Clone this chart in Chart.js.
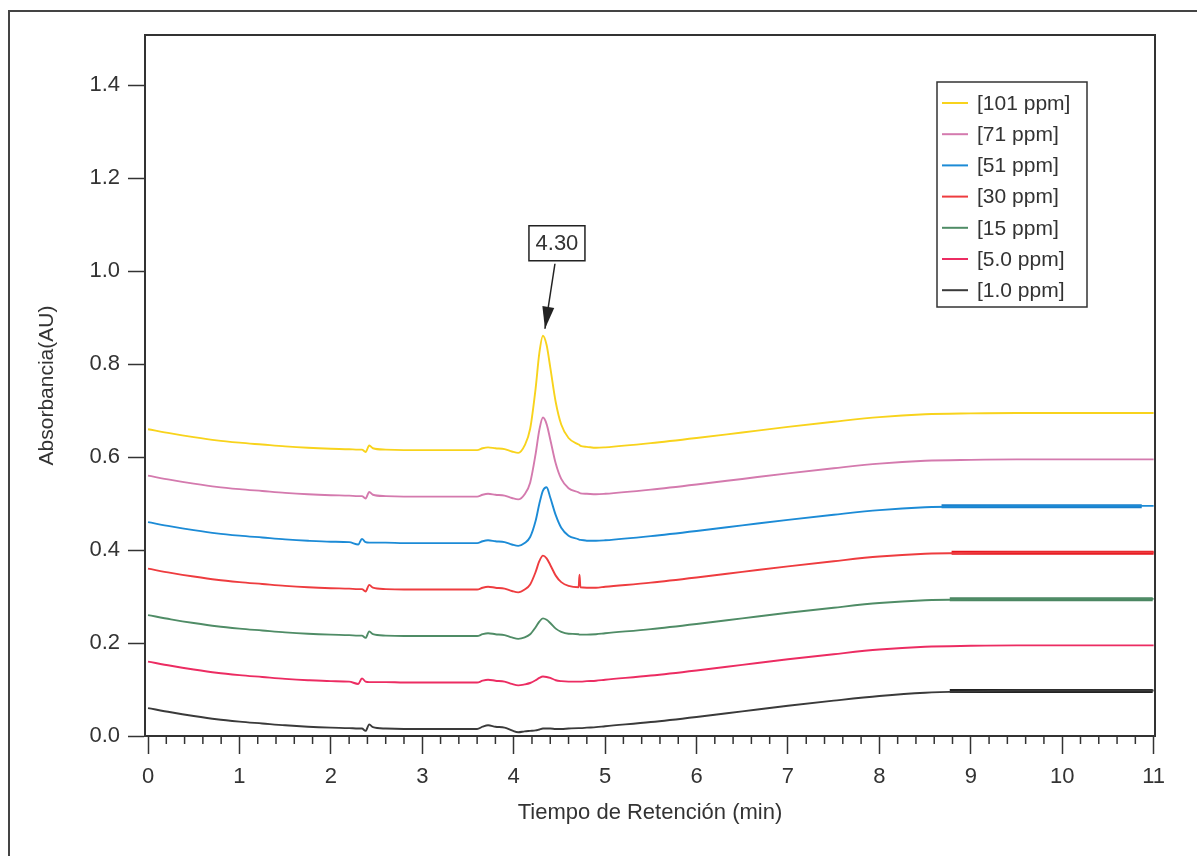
<!DOCTYPE html>
<html>
<head>
<meta charset="utf-8">
<script src="https://cdn.jsdelivr.net/npm/chart.js@4"></script>
<style>
  html, body { margin: 0; padding: 0; background: #fff; }
  #wrap { position: relative; width: 1197px; height: 856px; }
</style>
</head>
<body>
<div id="wrap"><canvas id="myChart" width="1197" height="856"></canvas></div>
<script>
// retention time (min)
const time = [0, 0.25, 0.5, 0.75, 1, 1.25, 1.5, 1.75, 2, 2.2, 2.3, 2.34, 2.38, 2.42, 2.46, 2.6, 2.8, 3, 3.2, 3.4, 3.6, 3.66, 3.72, 3.8, 3.9, 3.98, 4.05,
  4.12, 4.18, 4.24, 4.28, 4.32, 4.36, 4.4, 4.46, 4.52, 4.6, 4.71, 4.72, 4.73, 4.8, 4.9, 5, 5.5, 6, 6.5, 7, 7.5, 8, 8.5, 9, 9.5, 10, 10.5, 11];

// absorbance (AU) per standard
const ppm101 = [0.660, 0.651, 0.643, 0.636, 0.631, 0.627, 0.623, 0.620, 0.618, 0.617, 0.616, 0.616, 0.611, 0.625, 0.619, 0.616, 0.615, 0.615, 0.615, 0.615, 0.615, 0.619, 0.621, 0.619, 0.617, 0.612, 0.609,
  0.625, 0.661, 0.748, 0.823, 0.861, 0.841, 0.793, 0.718, 0.670, 0.641, 0.627, 0.626, 0.624, 0.622, 0.620, 0.621, 0.630, 0.641, 0.653, 0.665, 0.676, 0.686, 0.692, 0.694, 0.695, 0.695, 0.695, 0.695];
const ppm71 = [0.560, 0.551, 0.543, 0.536, 0.531, 0.527, 0.523, 0.520, 0.518, 0.517, 0.516, 0.516, 0.511, 0.525, 0.519, 0.516, 0.515, 0.515, 0.515, 0.515, 0.515, 0.519, 0.521, 0.519, 0.517, 0.512, 0.509,
  0.520, 0.545, 0.607, 0.658, 0.685, 0.671, 0.638, 0.586, 0.553, 0.533, 0.524, 0.523, 0.522, 0.521, 0.520, 0.521, 0.530, 0.541, 0.553, 0.565, 0.576, 0.586, 0.592, 0.594, 0.595, 0.595, 0.595, 0.595];
const ppm51 = [0.460, 0.451, 0.443, 0.436, 0.431, 0.427, 0.423, 0.420, 0.418, 0.417, 0.412, 0.424, 0.417, 0.416, 0.416, 0.416, 0.415, 0.415, 0.415, 0.415, 0.415, 0.419, 0.421, 0.419, 0.417, 0.412, 0.409,
  0.415, 0.428, 0.463, 0.499, 0.528, 0.535, 0.513, 0.475, 0.448, 0.431, 0.423, 0.422, 0.422, 0.420, 0.420, 0.421, 0.430, 0.441, 0.453, 0.465, 0.476, 0.486, 0.492, 0.494, 0.495, 0.495, 0.495, 0.495];
const ppm30 = [0.360, 0.351, 0.343, 0.336, 0.331, 0.327, 0.323, 0.320, 0.318, 0.317, 0.316, 0.316, 0.311, 0.325, 0.319, 0.316, 0.315, 0.315, 0.315, 0.315, 0.315, 0.319, 0.321, 0.319, 0.317, 0.312, 0.309,
  0.315, 0.326, 0.353, 0.376, 0.388, 0.382, 0.368, 0.345, 0.331, 0.323, 0.320, 0.347, 0.320, 0.319, 0.319, 0.321, 0.330, 0.341, 0.353, 0.365, 0.376, 0.386, 0.392, 0.394, 0.395, 0.395, 0.395, 0.395];
const ppm15 = [0.260, 0.251, 0.243, 0.236, 0.231, 0.227, 0.223, 0.220, 0.218, 0.217, 0.216, 0.216, 0.211, 0.225, 0.219, 0.216, 0.215, 0.215, 0.215, 0.215, 0.215, 0.219, 0.221, 0.219, 0.217, 0.212, 0.209,
  0.212, 0.219, 0.234, 0.246, 0.253, 0.250, 0.243, 0.231, 0.224, 0.220, 0.219, 0.218, 0.218, 0.218, 0.219, 0.221, 0.230, 0.241, 0.253, 0.265, 0.276, 0.286, 0.292, 0.294, 0.295, 0.295, 0.295, 0.295];
const ppm5 = [0.160, 0.151, 0.143, 0.136, 0.131, 0.127, 0.123, 0.120, 0.118, 0.117, 0.112, 0.124, 0.117, 0.116, 0.116, 0.116, 0.115, 0.115, 0.115, 0.115, 0.115, 0.119, 0.121, 0.119, 0.117, 0.112, 0.109,
  0.111, 0.114, 0.120, 0.125, 0.128, 0.127, 0.125, 0.120, 0.118, 0.117, 0.117, 0.117, 0.117, 0.118, 0.119, 0.121, 0.130, 0.141, 0.153, 0.165, 0.176, 0.186, 0.192, 0.194, 0.195, 0.195, 0.195, 0.195];
const ppm1 = [0.060, 0.051, 0.043, 0.036, 0.031, 0.027, 0.023, 0.020, 0.018, 0.017, 0.016, 0.016, 0.011, 0.025, 0.019, 0.016, 0.015, 0.015, 0.015, 0.015, 0.015, 0.020, 0.023, 0.020, 0.018, 0.012, 0.008,
  0.010, 0.011, 0.012, 0.014, 0.016, 0.016, 0.016, 0.015, 0.015, 0.016, 0.017, 0.017, 0.017, 0.018, 0.019, 0.021, 0.030, 0.041, 0.053, 0.065, 0.076, 0.086, 0.093, 0.096, 0.098, 0.098, 0.098, 0.098];

const seriesLabels = ['[101 ppm]', '[71 ppm]', '[51 ppm]', '[30 ppm]', '[15 ppm]', '[5.0 ppm]', '[1.0 ppm]'];
const seriesValues = [ppm101, ppm71, ppm51, ppm30, ppm15, ppm5, ppm1];
const seriesColors = ['#f8d31c', '#d47aae', '#1c8bd6', '#ee3c3f', '#4f8c66', '#ec2c62', '#3a3a3a'];

// baseline integration marks (thick segments at the end)
const markFrom = [8.68, 8.79, 8.77, 8.77];
const markTo = [10.87, 11.0, 10.99, 10.99];
const markLevel = [0.494, 0.394, 0.294, 0.097];
const markColors = ['#1b7fca', '#e6141d', '#4b8662', '#222222'];

const yTicks = [0, 0.2, 0.4, 0.6, 0.8, 1.0, 1.2, 1.4];
const peakLabel = '4.30';

const FONT = "'Liberation Sans', Arial, sans-serif";
const INK = '#333';

var datasets = seriesValues.map(function (vals, i) {
  return {
    label: seriesLabels[i],
    data: time.map(function (t, j) { return {x: t, y: vals[j]}; }),
    borderColor: seriesColors[i],
    borderWidth: 1.9,
    pointRadius: 0,
    cubicInterpolationMode: 'monotone',
  };
});
markFrom.forEach(function (x0, i) {
  datasets.push({
    label: '',
    data: [{x: x0, y: markLevel[i]}, {x: markTo[i], y: markLevel[i]}],
    borderColor: markColors[i],
    borderWidth: 4,
    pointRadius: 0,
  });
});

// frame, minor ticks, legend and peak label
var decor = {
  id: 'decor',
  beforeDraw: function (chart) {
    var ctx = chart.ctx;
    ctx.save();
    ctx.strokeStyle = '#444';
    ctx.lineWidth = 2;
    ctx.beginPath();
    ctx.moveTo(9, 860); ctx.lineTo(9, 11); ctx.lineTo(1200, 11);
    ctx.stroke();
    ctx.restore();
  },
  afterDraw: function (chart) {
    var ctx = chart.ctx, a = chart.chartArea;
    var xs = chart.scales.x, ys = chart.scales.y;
    ctx.save();
    ctx.strokeStyle = INK;
    ctx.lineWidth = 2;
    ctx.strokeRect(a.left, a.top, a.right - a.left, a.bottom - a.top);

    // minor ticks
    ctx.lineWidth = 1.5;
    for (var k = 1; k < 55; k++) {
      if (k % 5 === 0) continue;
      var px = xs.getPixelForValue(k / 5);
      ctx.beginPath();
      ctx.moveTo(px, a.bottom);
      ctx.lineTo(px, a.bottom + 8);
      ctx.stroke();
    }

    // legend
    var lx = a.right - 218, ly = a.top + 47, rowH = 31.2;
    ctx.fillStyle = '#fff';
    ctx.fillRect(lx, ly, 150, 225);
    ctx.lineWidth = 1.5;
    ctx.strokeStyle = INK;
    ctx.strokeRect(lx, ly, 150, 225);
    ctx.font = '21px ' + FONT;
    ctx.textBaseline = 'middle';
    ctx.textAlign = 'left';
    seriesLabels.forEach(function (lab, i) {
      var cy = ly + 21 + i * rowH;
      ctx.strokeStyle = seriesColors[i];
      ctx.lineWidth = 2;
      ctx.beginPath();
      ctx.moveTo(lx + 5, cy);
      ctx.lineTo(lx + 31, cy);
      ctx.stroke();
      ctx.fillStyle = INK;
      ctx.fillText(lab, lx + 40, cy + 1);
    });

    // peak annotation
    var imax = ppm101.indexOf(Math.max.apply(null, ppm101));
    var pxp = xs.getPixelForValue(time[imax]);
    var pyp = ys.getPixelForValue(ppm101[imax]);
    var tipX = pxp + 2, tipY = pyp - 7;
    var tailX = pxp + 12, tailY = pyp - 72;
    var bx = pxp - 14, by = pyp - 110, bw = 56, bh = 35;
    ctx.strokeStyle = '#222';
    ctx.lineWidth = 1.5;
    ctx.beginPath();
    ctx.moveTo(tailX, tailY);
    ctx.lineTo(tipX, tipY);
    ctx.stroke();
    var ang = Math.atan2(tipY - tailY, tipX - tailX);
    ctx.fillStyle = '#222';
    ctx.beginPath();
    ctx.moveTo(tipX, tipY);
    ctx.lineTo(tipX - 22 * Math.cos(ang) + 6 * Math.sin(ang), tipY - 22 * Math.sin(ang) - 6 * Math.cos(ang));
    ctx.lineTo(tipX - 22 * Math.cos(ang) - 6 * Math.sin(ang), tipY - 22 * Math.sin(ang) + 6 * Math.cos(ang));
    ctx.closePath();
    ctx.fill();
    ctx.fillStyle = '#fff';
    ctx.fillRect(bx, by, bw, bh);
    ctx.strokeRect(bx, by, bw, bh);
    ctx.fillStyle = INK;
    ctx.textAlign = 'center';
    ctx.font = '22px ' + FONT;
    ctx.fillText(peakLabel, bx + bw / 2, by + bh / 2 + 1);
    ctx.restore();
  }
};

var canvas = document.getElementById('myChart').getContext('2d');
var myChart = new Chart(canvas, {
  type: 'line',
  data: {datasets: datasets},
  options: {
    responsive: false,
    animation: false,
    devicePixelRatio: 1,
    layout: {padding: {left: 0, top: 35, right: 42, bottom: 0}},
    plugins: {legend: {display: false}, tooltip: {enabled: false}},
    scales: {
      x: {
        type: 'linear',
        min: -0.033,
        max: 11.015,
        afterFit: function (s) { s.height = 120; },
        ticks: {
          stepSize: 1,
          includeBounds: false,
          color: INK,
          font: {family: FONT, size: 22},
          padding: 10,
          maxRotation: 0,
        },
        grid: {drawOnChartArea: false, drawTicks: true, tickLength: 18, tickColor: INK, tickWidth: 1.5},
        border: {display: true, color: INK, width: 2},
        title: {display: true, text: 'Tiempo de Retención (min)', color: INK, font: {family: FONT, size: 22}, padding: {top: 0, bottom: 30}},
      },
      y: {
        min: 0,
        max: 1.508,
        afterFit: function (s) { s.width = 145; },
        afterBuildTicks: function (s) { s.ticks = yTicks.map(function (v) { return {value: v}; }); },
        ticks: {
          color: INK,
          font: {family: FONT, size: 22},
          padding: 8,
          callback: function (v) { return v.toFixed(1); },
        },
        grid: {drawOnChartArea: false, drawTicks: true, tickLength: 17, tickColor: INK, tickWidth: 1.5},
        border: {display: true, color: INK, width: 2},
        title: {display: true, text: 'Absorbancia(AU)', color: INK, font: {family: FONT, size: 21}, padding: {top: 35, bottom: 0}},
      },
    },
  },
  plugins: [decor],
});
</script>
</body>
</html>
